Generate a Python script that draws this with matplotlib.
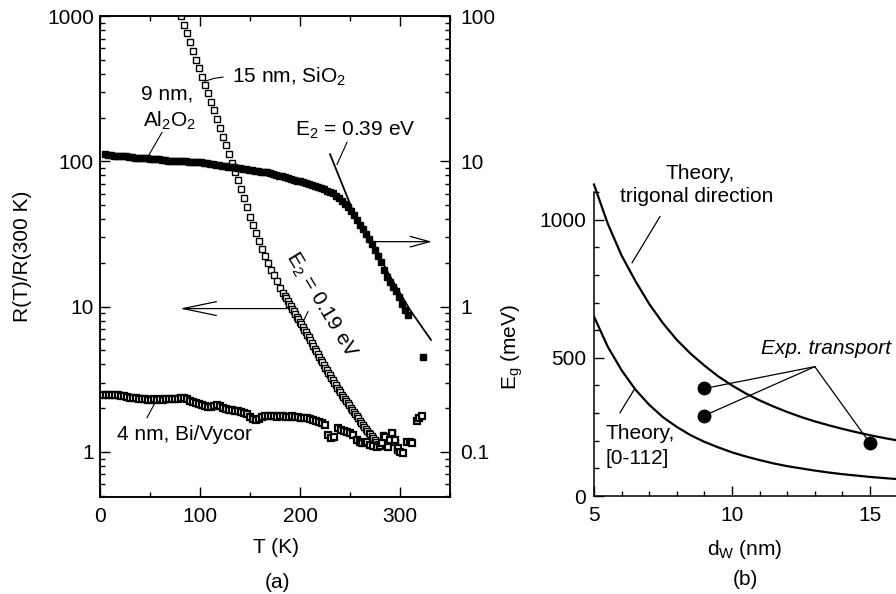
import matplotlib
matplotlib.use("Agg")
import matplotlib.pyplot as plt
from matplotlib.ticker import FixedLocator, MultipleLocator, LogLocator, NullFormatter, FuncFormatter

# ---- panel (a): normalized resistance vs temperature ----
# 15 nm Bi in SiO2 (left axis)
T_15nm = [81, 84, 87, 90, 93, 96, 99, 102, 105, 108, 111, 114, 117, 120, 123, 126, 129,
          132, 135, 138, 141, 144, 147, 150, 153, 156, 159, 162, 165, 168, 171, 174, 177,
          180, 183, 184.5, 186, 187.5, 189, 190.5, 192, 193.5, 195, 196.5, 198, 199.5, 201,
          202.5, 204, 205.5, 207, 208.5, 210, 211.5, 213, 214.5, 216, 217.5, 219, 220.5, 222,
          223.5, 225, 226.5, 228, 229.5, 231, 232.5, 234, 235.5, 237, 238.5, 240, 241.5, 243,
          244.5, 246, 247.5, 249, 250.5, 252, 253.5, 255, 256.5, 258, 259.5, 261, 262.5, 264,
          265.5, 267, 268.5, 270, 271.5, 273, 274.5, 276, 277.5, 279, 283, 285, 288, 292, 295, 297]
R_15nm = [1000, 871, 759, 661, 575, 501, 437, 382, 335, 294, 257, 224, 195, 170, 148, 129, 112,
          97.7, 85.1, 74.1, 64.4, 55.7, 48.2, 41.7, 36.6, 32.1, 28.1, 25.0, 22.4, 20.0, 18.0, 16.4, 14.9,
          13.5, 12.4, 11.9, 11.4, 10.96, 10.5, 10.1, 9.68, 9.29, 8.91, 8.55, 8.20, 7.87, 7.55,
          7.24, 6.95, 6.67, 6.40, 6.14, 5.89, 5.63, 5.38, 5.15, 4.92, 4.70, 4.50, 4.31, 4.13,
          3.96, 3.80, 3.65, 3.50, 3.36, 3.23, 3.11, 2.99, 2.88, 2.77, 2.67, 2.57, 2.48, 2.40,
          2.32, 2.24, 2.16, 2.09, 2.02, 1.95, 1.88, 1.82, 1.76, 1.70, 1.64, 1.59, 1.54, 1.49,
          1.45, 1.40, 1.36, 1.32, 1.28, 1.24, 1.21, 1.17, 1.135, 1.10, 1.31, 1.12, 1.17, 1.35, 1.17, 1.03]

# 4 nm Bi in Vycor (left axis)
T_4nm = [3, 6, 9, 12, 15, 18, 21, 24, 27, 30, 33, 36, 39, 42, 45, 48, 51, 54, 57, 60, 63, 66,
         69, 72, 75, 78, 81, 84, 87, 90, 93, 96, 99, 102, 105, 108, 111, 114, 117, 120, 123,
         126, 129, 132, 135, 138, 141, 144, 147, 150, 153, 156, 159, 162, 165, 168, 171, 174,
         177, 180, 183, 186, 189, 192, 195, 198, 201, 204, 207, 210, 213, 216, 219, 222, 225,
         228, 231, 234, 238, 241, 244, 247, 250, 253, 257, 260, 262, 265, 267, 270, 273, 277,
         280, 282, 285, 288, 290, 292, 295, 298, 300, 303, 307, 310, 312, 317, 319, 322]
R_4nm = [2.47, 2.47, 2.46, 2.45, 2.46, 2.45, 2.44, 2.42, 2.38, 2.37, 2.36, 2.35, 2.33, 2.32, 2.30,
         2.28, 2.28, 2.30, 2.29, 2.30, 2.29, 2.30, 2.31, 2.30, 2.31, 2.33, 2.36, 2.34, 2.30, 2.25,
         2.20, 2.17, 2.13, 2.10, 2.07, 2.05, 2.03, 2.06, 2.10, 2.07, 2.00, 1.97, 1.95, 1.93, 1.92,
         1.90, 1.88, 1.86, 1.83, 1.74, 1.68, 1.66, 1.68, 1.74, 1.78, 1.77, 1.76, 1.77, 1.75, 1.76,
         1.76, 1.74, 1.75, 1.76, 1.74, 1.75, 1.72, 1.71, 1.70, 1.68, 1.66, 1.64, 1.62, 1.59, 1.54,
         1.31, 1.25, 1.27, 1.46, 1.42, 1.40, 1.37, 1.35, 1.30, 1.21, 1.18, 1.15, 1.16, 1.17, 1.12,
         1.10, 1.08, 1.10, 1.15, 1.27, 1.08, 1.20, 1.35, 1.21, 1.07, 1.00, 0.98, 1.17, 1.17, 1.15,
         1.64, 1.70, 1.77]

# 9 nm Bi in Al2O2 (right axis)
T_9nm = [5, 8, 11, 14, 17, 20, 23, 26, 29, 32, 35, 38, 41, 44, 47, 50, 53, 56, 59, 62, 65, 68,
         71, 74, 77, 80, 83, 86, 89, 92, 95, 98, 101, 104, 107, 110, 113, 116, 119, 122, 125,
         128, 131, 134, 137, 140, 143, 146, 149, 152, 155, 158, 161, 164, 167, 170, 173, 176,
         179, 182, 185, 188, 191, 194, 197, 200, 203, 206, 209, 212, 215, 218, 221, 224, 227,
         230, 233, 236, 239, 242, 245, 248, 251, 254, 257, 260, 263, 266, 269, 272, 275, 278,
         281, 284, 287, 290, 293, 296, 299, 302, 305, 308, 323]
R_9nm = [11.2, 11.1, 11.0, 10.96, 10.9, 10.9, 10.8, 10.8, 10.7, 10.7, 10.6, 10.6, 10.5, 10.5, 10.5,
         10.4, 10.4, 10.3, 10.3, 10.2, 10.2, 10.1, 10.1, 10.1, 10.05, 10.0, 10.0, 9.98, 9.95, 9.91,
         9.89, 9.86, 9.82, 9.75, 9.68, 9.59, 9.53, 9.46, 9.40, 9.33, 9.27, 9.20, 9.14, 9.08, 9.02,
         8.95, 8.87, 8.81, 8.75, 8.69, 8.63, 8.57, 8.51, 8.45, 8.39, 8.28, 8.18, 8.07, 7.98, 7.87,
         7.76, 7.67, 7.57, 7.46, 7.38, 7.28, 7.18, 7.08, 6.98, 6.89, 6.79, 6.68, 6.55, 6.41, 6.28,
         6.14, 6.01, 5.78, 5.57, 5.36, 5.11, 4.84, 4.56, 4.28, 3.97, 3.67, 3.40, 3.14, 2.90, 2.68,
         2.45, 2.24, 2.03, 1.80, 1.60, 1.47, 1.37, 1.28, 1.16, 1.04, 0.95, 0.88, 0.45]

# activation fit, E2 = 0.39 eV (right axis)
T_fit = [230, 253, 272, 290, 310, 331]
R_fit = [11.2, 4.54, 2.75, 1.62, 0.95, 0.59]

# ---- panel (b): gap vs wire diameter ----
d_theory = [5.0, 5.5, 6.0, 6.5, 7.0, 7.5, 8.0, 8.5, 9.0, 9.5, 10.0, 10.5, 11.0, 11.5,
            12.0, 12.5, 13.0, 13.5, 14.0, 14.5, 15.0, 15.5, 16.0]
Eg_trigonal = [1127, 985, 870, 778, 695, 625, 565, 515, 472, 433, 400, 371, 346, 324,
               304, 286, 270, 256, 243, 231, 220, 210, 201]
Eg_0112 = [649, 540, 455, 385, 330, 285, 250, 220, 196, 176, 158, 143, 130, 118,
           108, 100, 92, 85, 79, 74, 69, 65, 61]
d_exp = [9, 9, 15]
Eg_exp = [389, 291, 191]

plt.rcParams['font.family'] = ['Liberation Sans', 'DejaVu Sans']
plt.rcParams['font.size'] = 15
plt.rcParams['mathtext.fontset'] = 'custom'
plt.rcParams['mathtext.rm'] = 'Liberation Sans'
plt.rcParams['mathtext.it'] = 'Liberation Sans:italic'

fig = plt.figure(figsize=(8.96, 5.94), dpi=100)

# ---------------- panel (a) ----------------
ax = fig.add_axes([100 / 896, 97 / 594, 350 / 896, 481 / 594])
ax.set_yscale('log')
ax.set_xlim(0, 350)
ax.set_ylim(0.49, 1000)

ax2 = ax.twinx()
ax2.set_yscale('log')
ax2.set_ylim(0.049, 100)

ax.plot(T_15nm, R_15nm, 's', ms=4.6, mfc='white', mec='black', mew=1.0, zorder=3)
ax.plot(T_4nm, R_4nm, 's', ms=4.6, mfc='white', mec='black', mew=1.6, zorder=3)
ax2.plot(T_9nm, R_9nm, 's', ms=5.0, color='black', zorder=3)
ax2.plot(T_fit, R_fit, '-', color='black', lw=1.3, zorder=2)

for a in (ax, ax2):
    a.tick_params(which='both', direction='in', width=1, labelsize=15)
    a.tick_params(which='major', length=7)
    a.tick_params(which='minor', length=3.5)
    a.yaxis.set_major_locator(LogLocator(base=10, numticks=10))
    a.yaxis.set_minor_locator(LogLocator(base=10, subs=range(2, 10), numticks=10))
    a.yaxis.set_minor_formatter(NullFormatter())
    a.yaxis.set_major_formatter(FuncFormatter(lambda v, p: '%g' % v))
ax.tick_params(which='both', top=True, right=False)
ax.tick_params(axis='x', pad=7)
ax.tick_params(axis='y', pad=4.5)
ax2.tick_params(which='both', left=False, right=True, pad=7.5)
ax.xaxis.set_major_locator(MultipleLocator(100))
ax.xaxis.set_minor_locator(MultipleLocator(50))
for s in list(ax.spines.values()) + list(ax2.spines.values()):
    s.set_linewidth(1.1)

ax.set_xlabel('T (K)', fontsize=15)
ax.xaxis.set_label_coords(0.503, -0.085)
ax.set_ylabel('R(T)/R(300 K)', fontsize=15)
ax.yaxis.set_label_coords(-0.194, 0.5)
ax.text(0.506, -0.177, '(a)', transform=ax.transAxes, ha='center', va='center', fontsize=15)

ax.text(132, 345, '15 nm, SiO$\\mathregular{_2}$', ha='left', va='baseline', fontsize=15)
ax.plot([105, 114, 123], [356, 372, 380], '-', color='black', lw=0.8)
ax.text(67, 268, '9 nm,', ha='center', va='baseline', fontsize=15)
ax.text(70, 174, 'Al$\\mathregular{_2}$O$\\mathregular{_2}$', ha='center', va='baseline', fontsize=15)
ax.plot([62, 48], [158, 108], '-', color='black', lw=0.8)
ax.text(195, 149, 'E$\\mathregular{_2}$ = 0.39 eV', ha='left', va='baseline', fontsize=15)
ax.plot([247, 237], [135, 95.3], '-', color='black', lw=0.8)
ax.text(221, 10.3, 'E$\\mathregular{_2}$ = 0.19 eV', ha='center', va='center', rotation=-59,
        rotation_mode='anchor', fontsize=15)
ax.plot([208, 203], [9.24, 7.88], '-', color='black', lw=0.8)
ax.text(17, 1.21, '4 nm, Bi/Vycor', ha='left', va='baseline', fontsize=15)
ax.plot([47, 55], [1.72, 2.18], '-', color='black', lw=0.8)

# arrows pointing to the axis each curve belongs to
ax.annotate('', xy=(80, 9.7), xytext=(187, 9.7),
            arrowprops=dict(arrowstyle='->,head_length=2.4,head_width=0.5', lw=0.9,
                            mutation_scale=10, color='black', shrinkA=0, shrinkB=0))
ax.annotate('', xy=(332, 28.0), xytext=(270, 28.0),
            arrowprops=dict(arrowstyle='->,head_length=1.4,head_width=0.38', lw=0.9,
                            mutation_scale=10, color='black', shrinkA=0, shrinkB=0))

# ---------------- panel (b) ----------------
bx = fig.add_axes([594 / 896, 98 / 594, 414 / 896, 304 / 594])
bx.set_xlim(5, 20)
bx.set_ylim(0, 1100)
bx.spines['top'].set_visible(False)
bx.spines['right'].set_visible(False)
for s in bx.spines.values():
    s.set_linewidth(1.1)

bx.plot(d_theory, Eg_trigonal, '-', color='black', lw=1.6, clip_on=False)
bx.plot(d_theory, Eg_0112, '-', color='black', lw=1.6)
for d, e in zip(d_exp, Eg_exp):
    bx.plot([d, 13], [e, 468], '-', color='black', lw=0.9, zorder=2)
bx.plot(d_exp, Eg_exp, 'o', ms=9, color='black', zorder=3)

bx.xaxis.set_major_locator(FixedLocator([5, 10, 15]))
bx.xaxis.set_minor_locator(MultipleLocator(1))
bx.yaxis.set_major_locator(FixedLocator([0, 500, 1000]))
bx.yaxis.set_minor_locator(MultipleLocator(100))
bx.tick_params(which='both', direction='in', width=1, labelsize=15)
bx.tick_params(which='major', length=7)
bx.tick_params(which='minor', length=3.5)
bx.tick_params(axis='x', pad=7)
bx.tick_params(axis='y', pad=5.5)

bx.set_xlabel('d$\\mathregular{_W}$ (nm)', fontsize=15)
bx.xaxis.set_label_coords(0.365, -0.138)
bx.set_ylabel('E$\\mathregular{_g}$ (meV)', fontsize=15)
bx.yaxis.set_label_coords(-0.167, 0.49)
bx.text(0.365, -0.276, '(b)', transform=bx.transAxes, ha='center', va='center', fontsize=15)

bx.text(8.84, 1147, 'Theory,', ha='center', va='baseline', fontsize=15)
bx.text(8.73, 1063, 'trigonal direction', ha='center', va='baseline', fontsize=15)
bx.plot([7.39, 6.38], [1011, 844], '-', color='black', lw=0.9)
bx.text(5.40, 205, 'Theory,', ha='left', va='baseline', fontsize=15)
bx.text(5.40, 116, '[0-112]', ha='left', va='baseline', fontsize=15)
bx.plot([5.94, 6.45], [301, 384], '-', color='black', lw=0.9)
bx.text(11.04, 514, 'Exp. transport', ha='left', va='baseline', fontsize=15, style='italic')

fig.savefig('out.png', dpi=100)
